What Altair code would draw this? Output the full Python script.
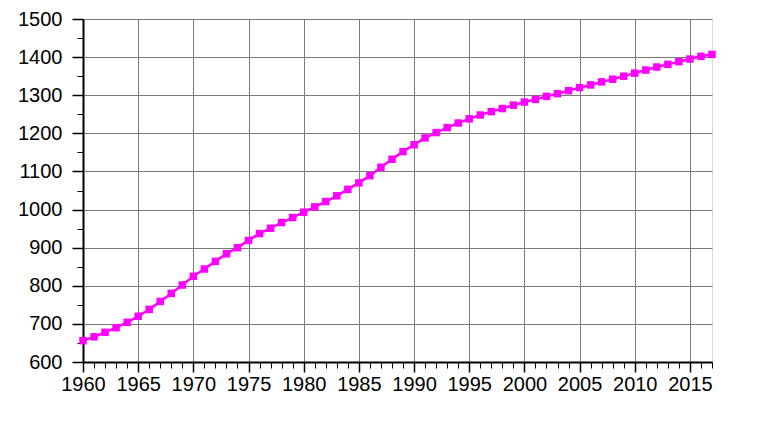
import altair as alt
import pandas as pd

years = list(range(1960, 2018))
population = [
    656, 666, 678, 690, 704, 720, 738, 759, 780, 802,
    825, 844, 864, 884, 900, 919, 937, 951, 966, 979,
    993, 1007, 1021, 1036, 1053, 1070, 1089, 1111, 1132, 1152,
    1170, 1188, 1202, 1215, 1227, 1238, 1248, 1257, 1265, 1274,
    1282, 1289, 1297, 1304, 1312, 1320, 1327, 1335, 1342, 1350,
    1358, 1366, 1374, 1381, 1388, 1395, 1402, 1407,
]
x_ticks = list(range(1960, 2018))
y_ticks = list(range(600, 1501, 50))

df = pd.DataFrame({"year": years, "pop": population})

FONT = "Liberation Sans"
FS = 20

x_axis = alt.Axis(
    values=x_ticks,
    format="d",
    title=None,
    labelExpr="datum.value % 5 === 0 ? datum.label : ''",
    labelOverlap=False,
    labelFont=FONT,
    labelFontSize=FS,
    labelColor="#000000",
    labelPadding=2,
    labelFlush=False,
    domainColor="#000000",
    domainWidth=2,
    tickColor="#000000",
    tickSize={"condition": {"test": "datum.value % 5 === 0", "value": 10}, "value": 6},
    tickWidth={"condition": {"test": "datum.value % 5 === 0", "value": 1.5}, "value": 1},
    grid=True,
    gridColor="#7a7a7a",
    gridWidth=1,
    gridOpacity={"condition": {"test": "datum.value % 5 === 0", "value": 1}, "value": 0},
)

y_axis = alt.Axis(
    values=y_ticks,
    format="d",
    title=None,
    labelExpr="datum.value % 100 === 0 ? datum.label : ''",
    labelOverlap=False,
    labelFont=FONT,
    labelFontSize=FS,
    labelColor="#000000",
    labelPadding=10,
    labelFlush=False,
    domainColor="#000000",
    domainWidth=2,
    tickColor="#000000",
    tickSize={"condition": {"test": "datum.value % 100 === 0", "value": 11}, "value": 6},
    tickWidth={"condition": {"test": "datum.value % 100 === 0", "value": 1.5}, "value": 1},
    grid=True,
    gridColor="#7a7a7a",
    gridWidth=1,
    gridOpacity={"condition": {"test": "datum.value % 100 === 0", "value": 1}, "value": 0},
)

chart = (
    alt.Chart(df)
    .mark_line(
        color="#ff00ff",
        strokeWidth=2.5,
        point=alt.OverlayMarkDef(shape="square", size=56, filled=True, color="#ff00ff", opacity=1),
    )
    .encode(
        x=alt.X("year:Q", scale=alt.Scale(domain=[1960, 2017], nice=False, zero=False), axis=x_axis),
        y=alt.Y("pop:Q", scale=alt.Scale(domain=[600, 1500], nice=False, zero=False), axis=y_axis),
    )
    .properties(
        width=629,
        height=343,
        autosize=alt.AutoSizeParams(type="none"),
        padding={"left": 83, "top": 19, "right": 62, "bottom": 62},
    )
    .configure_view(stroke=None)
    .configure(background="#ffffff")
)

chart.save("out.html", embed_options={"renderer": "svg", "actions": False})
